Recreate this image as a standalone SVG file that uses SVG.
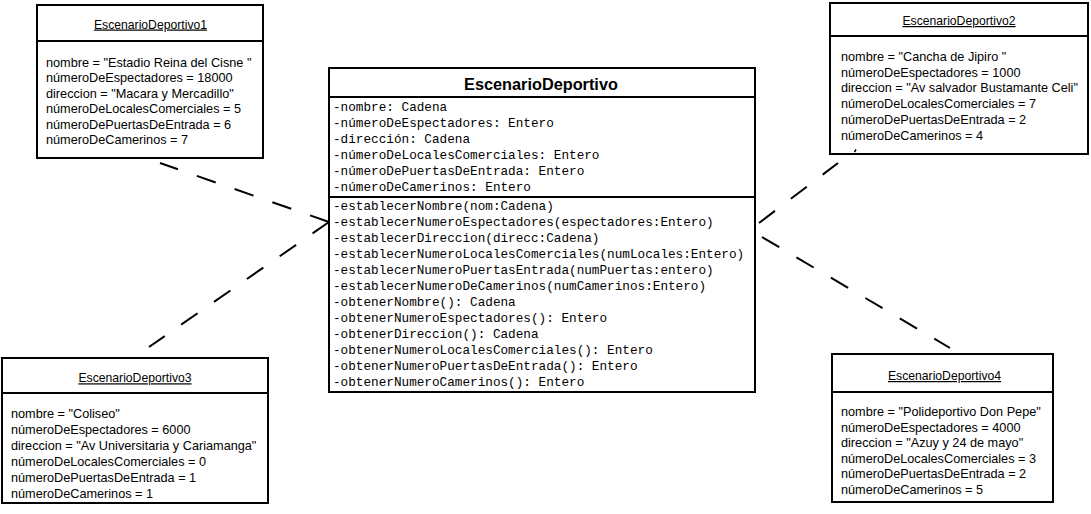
<svg xmlns="http://www.w3.org/2000/svg" width="1091" height="514" viewBox="0 0 1091 514">
<style>
.box{fill:#fff;stroke:#000;stroke-width:2}
.div{stroke:#000;stroke-width:2}
.ttl{font-family:"Liberation Sans",Arial,sans-serif;font-size:12.2px;text-anchor:middle;text-decoration:underline;fill:#000}
.val{font-family:"Liberation Sans",Arial,sans-serif;font-size:12.7px;fill:#000}
.cls{font-family:"Liberation Sans",Arial,sans-serif;font-size:16.3px;font-weight:bold;text-anchor:middle;fill:#000}
.mono{font-family:"Liberation Mono","Courier New",monospace;font-size:12.7px;fill:#000}
.dash{stroke:#000;stroke-width:2;fill:none;stroke-dasharray:20 20}
</style>
<rect width="1091" height="514" fill="#fff"/>
<g id="connectors">
<path class="dash" d="M329,222 L160,163"/>
<path class="dash" d="M329,222 L149,347"/>
<path class="dash" d="M759,223 L838,163"/>
<path class="dash" d="M762,237 L950,348"/>
</g>
<g id="EscenarioDeportivo">
<rect class="box" x="329" y="68" width="426" height="324"/>
<line class="div" x1="329" y1="97" x2="755" y2="97"/>
<line class="div" x1="329" y1="197" x2="755" y2="197"/>
<text class="cls" x="541" y="90">EscenarioDeportivo</text>
<text class="mono" x="333" y="111">-nombre: Cadena</text>
<text class="mono" x="333" y="127">-númeroDeEspectadores: Entero</text>
<text class="mono" x="333" y="143">-dirección: Cadena</text>
<text class="mono" x="333" y="159">-númeroDeLocalesComerciales: Entero</text>
<text class="mono" x="333" y="175">-númeroDePuertasDeEntrada: Entero</text>
<text class="mono" x="333" y="190.5">-númeroDeCamerinos: Entero</text>
<text class="mono" x="333" y="210">-establecerNombre(nom:Cadena)</text>
<text class="mono" x="333" y="226">-establecerNumeroEspectadores(espectadores:Entero)</text>
<text class="mono" x="333" y="242">-establecerDireccion(direcc:Cadena)</text>
<text class="mono" x="333" y="258">-establecerNumeroLocalesComerciales(numLocales:Entero)</text>
<text class="mono" x="333" y="274">-establecerNumeroPuertasEntrada(numPuertas:entero)</text>
<text class="mono" x="333" y="290">-establecerNumeroDeCamerinos(numCamerinos:Entero)</text>
<text class="mono" x="333" y="306">-obtenerNombre(): Cadena</text>
<text class="mono" x="333" y="322">-obtenerNumeroEspectadores(): Entero</text>
<text class="mono" x="333" y="338">-obtenerDireccion(): Cadena</text>
<text class="mono" x="333" y="354">-obtenerNumeroLocalesComerciales(): Entero</text>
<text class="mono" x="333" y="370">-obtenerNumeroPuertasDeEntrada(): Entero</text>
<text class="mono" x="333" y="386">-obtenerNumeroCamerinos(): Entero</text>
</g>
<g id="EscenarioDeportivo1">
<rect class="box" x="37" y="5" width="226" height="153"/>
<line class="div" x1="37" y1="41" x2="263" y2="41"/>
<text class="ttl" x="150.5" y="28.5">EscenarioDeportivo1</text>
<text class="val" x="46" y="66.5">nombre = "Estadio Reina del Cisne "</text>
<text class="val" x="46" y="82">númeroDeEspectadores = 18000</text>
<text class="val" x="46" y="97.5">direccion = "Macara y Mercadillo"</text>
<text class="val" x="46" y="113">númeroDeLocalesComerciales = 5</text>
<text class="val" x="46" y="128.5">númeroDePuertasDeEntrada = 6</text>
<text class="val" x="46" y="144">númeroDeCamerinos = 7</text>
</g>
<g id="EscenarioDeportivo2">
<rect class="box" x="830" y="3" width="258" height="151"/>
<line class="div" x1="830" y1="36" x2="1088" y2="36"/>
<text class="ttl" x="959" y="25">EscenarioDeportivo2</text>
<text class="val" x="841" y="61">nombre = "Cancha de Jipiro "</text>
<text class="val" x="841" y="76.7">númeroDeEspectadores = 1000</text>
<text class="val" x="841" y="92.4">direccion = "Av salvador Bustamante Celi"</text>
<text class="val" x="841" y="108.1">númeroDeLocalesComerciales = 7</text>
<text class="val" x="841" y="123.8">númeroDePuertasDeEntrada = 2</text>
<text class="val" x="841" y="139.5">númeroDeCamerinos = 4</text>
<line x1="854.5" y1="152" x2="856" y2="149.5" stroke="#000" stroke-width="1.5"/>
</g>
<g id="EscenarioDeportivo3">
<rect class="box" x="2" y="358" width="266" height="145"/>
<line class="div" x1="2" y1="393" x2="268" y2="393"/>
<text class="ttl" x="135" y="382.3">EscenarioDeportivo3</text>
<text class="val" x="11" y="417.5">nombre = "Coliseo"</text>
<text class="val" x="11" y="433.5">númeroDeEspectadores = 6000</text>
<text class="val" x="11" y="449.5">direccion = "Av Universitaria y Cariamanga"</text>
<text class="val" x="11" y="465.5">númeroDeLocalesComerciales = 0</text>
<text class="val" x="11" y="481.5">númeroDePuertasDeEntrada = 1</text>
<text class="val" x="11" y="497.5">númeroDeCamerinos = 1</text>
</g>
<g id="EscenarioDeportivo4">
<rect class="box" x="832" y="354" width="221" height="148"/>
<line class="div" x1="832" y1="392" x2="1053" y2="392"/>
<text class="ttl" x="944.5" y="380">EscenarioDeportivo4</text>
<text class="val" x="841" y="416">nombre = "Polideportivo Don Pepe"</text>
<text class="val" x="841" y="431.5">númeroDeEspectadores = 4000</text>
<text class="val" x="841" y="447">direccion = "Azuy y 24 de mayo"</text>
<text class="val" x="841" y="462.5">númeroDeLocalesComerciales = 3</text>
<text class="val" x="841" y="478">númeroDePuertasDeEntrada = 2</text>
<text class="val" x="841" y="493.5">númeroDeCamerinos = 5</text>
</g>
</svg>
